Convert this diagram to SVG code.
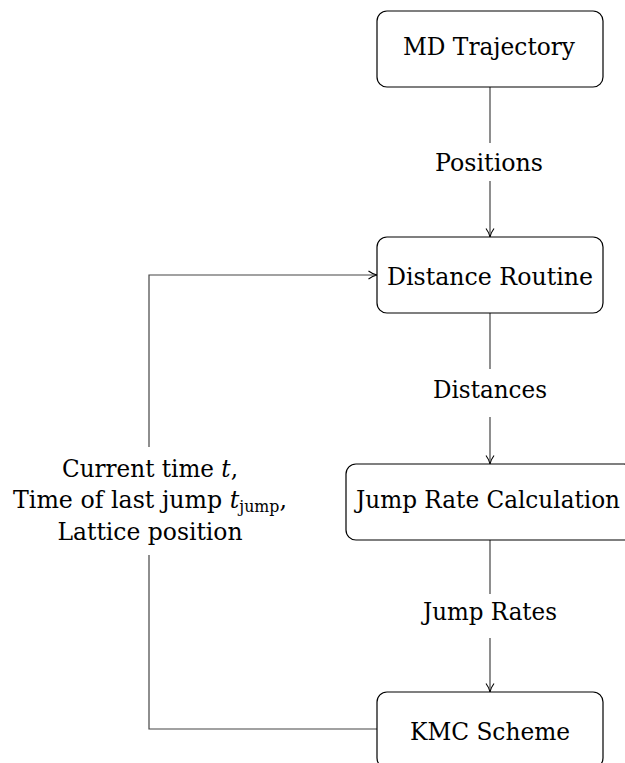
<svg xmlns="http://www.w3.org/2000/svg" width="625" height="763" viewBox="0 0 625 763">
<style>
.box{fill:#fff;stroke:#000;stroke-width:1.2}
.lbl{font-family:"DejaVu Serif","Liberation Serif",serif;font-size:24px;fill:#000;text-anchor:middle}
.con{fill:none;stroke:#444;stroke-width:1.2}
.it{font-style:italic}
</style>
<defs>
<marker id="arr" viewBox="0 0 10 10" refX="9.5" refY="5" markerWidth="10" markerHeight="10" markerUnits="userSpaceOnUse" orient="auto">
<path d="M1,1 Q5,4 9.5,5 Q5,6 1,9" fill="none" stroke="#000" stroke-width="1.1"/>
</marker>
</defs>
<rect width="625" height="763" fill="#fff"/>
<g id="connectors">
<path class="con" d="M490,87 V143"/>
<path class="con" d="M490,181 V237" marker-end="url(#arr)"/>
<path class="con" d="M490,313 V369"/>
<path class="con" d="M490,417 V464" marker-end="url(#arr)"/>
<path class="con" d="M490,540 V594"/>
<path class="con" d="M490,638 V692" marker-end="url(#arr)"/>
<path class="con" d="M377,729 H149 V555"/>
<path class="con" d="M149,447 V275 H377" marker-end="url(#arr)"/>
<text class="lbl" x="489" y="171" textLength="108" lengthAdjust="spacingAndGlyphs">Positions</text>
<text class="lbl" x="490" y="398" textLength="114" lengthAdjust="spacingAndGlyphs">Distances</text>
<text class="lbl" x="490" y="620" textLength="134" lengthAdjust="spacingAndGlyphs">Jump Rates</text>
<text class="lbl" x="150" y="477" textLength="176" lengthAdjust="spacingAndGlyphs">Current time <tspan class="it">t</tspan>,</text>
<text class="lbl" x="150" y="508" textLength="274" lengthAdjust="spacingAndGlyphs">Time of last jump <tspan class="it">t</tspan><tspan font-size="16" dy="4">jump</tspan><tspan dy="-4">,</tspan></text>
<text class="lbl" x="150" y="540" textLength="185" lengthAdjust="spacingAndGlyphs">Lattice position</text>
</g>
<g id="md">
<rect class="box" x="377" y="11" width="226" height="76" rx="10"/>
<text class="lbl" x="489" y="55" textLength="172" lengthAdjust="spacingAndGlyphs">MD Trajectory</text>
</g>
<g id="distance">
<rect class="box" x="377" y="237" width="226" height="76" rx="10"/>
<text class="lbl" x="490" y="285" textLength="206" lengthAdjust="spacingAndGlyphs">Distance Routine</text>
</g>
<g id="jumprate">
<rect class="box" x="346" y="464" width="288" height="76" rx="10"/>
<text class="lbl" x="488" y="508" textLength="264" lengthAdjust="spacingAndGlyphs">Jump Rate Calculation</text>
</g>
<g id="kmc">
<rect class="box" x="377" y="692" width="226" height="76" rx="10"/>
<text class="lbl" x="490" y="740" textLength="160" lengthAdjust="spacingAndGlyphs">KMC Scheme</text>
</g>
</svg>
